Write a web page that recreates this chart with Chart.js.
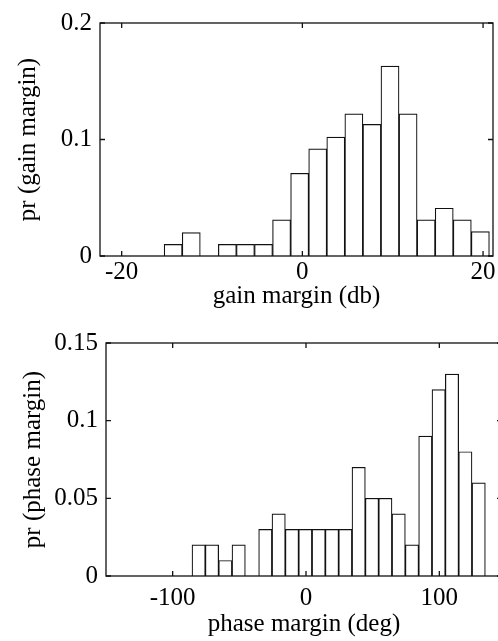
<!DOCTYPE html>
<html>
<head>
<meta charset="utf-8">
<script src="https://cdn.jsdelivr.net/npm/chart.js@4.4.1/dist/chart.umd.min.js"></script>
<style>
  html, body { margin:0; padding:0; background:#fff; overflow:hidden; }
  body { width:498px; height:641px; position:relative; }
  canvas { position:absolute; left:0; }
  #chart-0 { top:0; }
  #chart-1 { top:318px; }
</style>
</head>
<body>
<canvas id="chart-0" width="498" height="318"></canvas>
<canvas id="chart-1" width="504" height="323"></canvas>
<script>
// gain margin histogram (db), bin centres and probabilities
var gainBins = [-14.3, -12.3, -10.3, -8.3, -6.3, -4.3, -2.3, -0.3, 1.7, 3.7, 5.7, 7.7, 9.7, 11.7, 13.7, 15.7, 17.7, 19.7];
var gainPr   = [0.010, 0.020, 0, 0.010, 0.010, 0.010, 0.031, 0.071, 0.092, 0.102, 0.122, 0.113, 0.163, 0.122, 0.031, 0.041, 0.031, 0.021];
var gainTicksX = [-20, 0, 20];
var gainTicksY = [0, 0.1, 0.2];

// phase margin histogram (deg)
var phaseBins = [-80.5, -70.5, -60.5, -50.5, -40.5, -30.5, -20.5, -10.5, -0.5, 9.5, 19.5, 29.5, 39.5, 49.5, 59.5, 69.5, 79.5, 89.5, 99.5, 109.5, 119.5, 129.5];
var phasePr   = [0.02, 0.02, 0.01, 0.02, 0, 0.03, 0.04, 0.03, 0.03, 0.03, 0.03, 0.03, 0.07, 0.05, 0.05, 0.04, 0.02, 0.09, 0.12, 0.13, 0.08, 0.06];
var phaseTicksX = [-100, 0, 100];
var phaseTicksY = [0, 0.05, 0.1, 0.15];

Chart.defaults.font.family = "'Liberation Serif', 'Times New Roman', serif";
Chart.defaults.font.size = 25;
Chart.defaults.color = '#000';

// matlab style box with inward ticks on all four sides
var frameTicks = {
  id: 'frameTicks',
  afterDatasetsDraw: function(chart){
    var ctx = chart.ctx, a = chart.chartArea, len = 5;
    var sx = chart.scales.x, sy = chart.scales.y;
    ctx.save();
    ctx.strokeStyle = '#111';
    ctx.lineWidth = 1.3;
    ctx.strokeRect(a.left, a.top, a.right - a.left, a.bottom - a.top);
    ctx.beginPath();
    sx.ticks.forEach(function(t){
      var px = sx.getPixelForValue(t.value);
      ctx.moveTo(px, a.bottom); ctx.lineTo(px, a.bottom - len);
      ctx.moveTo(px, a.top); ctx.lineTo(px, a.top + len);
    });
    sy.ticks.forEach(function(t){
      var py = sy.getPixelForValue(t.value);
      ctx.moveTo(a.left, py); ctx.lineTo(a.left + len, py);
      ctx.moveTo(a.right, py); ctx.lineTo(a.right - len, py);
    });
    ctx.stroke();
    ctx.restore();
  }
};

function loadHistogram(objID, bins, pr, ticksX, ticksY, xMin, xMax, xTitle, yTitle, box){
  new Chart(document.getElementById(objID), {
    type: 'bar',
    data: {
      datasets: [{
        data: bins.map(function(b, i){ return {x: b, y: pr[i]}; }),
        backgroundColor: '#fff',
        borderColor: '#111',
        borderWidth: 1.2,
        barPercentage: 1,
        categoryPercentage: 1
      }]
    },
    options: {
      responsive: false,
      animation: false,
      events: [],
      layout: { padding: { left: 0, top: box.top, right: box.right, bottom: 0 } },
      plugins: { legend: { display: false }, tooltip: { enabled: false } },
      scales: {
        x: {
          type: 'linear',
          offset: false,
          min: xMin,
          max: xMax,
          grid: { display: false, drawTicks: false, offset: false },
          border: { display: false },
          afterBuildTicks: function(scale){ scale.ticks = ticksX.map(function(v){ return {value: v}; }); },
          afterFit: function(scale){ scale.height = box.xHeight; },
          ticks: { padding: box.xTickPad, maxRotation: 0, callback: function(v){ return String(v); } },
          title: { display: true, text: xTitle, padding: { top: 0, bottom: box.xTitlePad } }
        },
        y: {
          min: 0,
          max: ticksY[ticksY.length - 1],
          grid: { display: false, drawTicks: false },
          border: { display: false },
          afterBuildTicks: function(scale){ scale.ticks = ticksY.map(function(v){ return {value: v}; }); },
          afterFit: function(scale){ scale.width = box.yWidth; },
          ticks: { padding: 8, callback: function(v){ return String(v); } },
          title: { display: true, text: yTitle, padding: { top: box.yTitlePad, bottom: 0 } }
        }
      }
    },
    plugins: [frameTicks]
  });
}

loadHistogram('chart-0', gainBins, gainPr, gainTicksX, gainTicksY, -22.4, 21.1,
  'gain margin (db)', 'pr (gain margin)',
  {top: 23, right: 5, xHeight: 62, yWidth: 100, xTickPad: 1, xTitlePad: 7, yTitlePad: 13});

loadHistogram('chart-1', phaseBins, phasePr, phaseTicksX, phaseTicksY, -150, 147,
  'phase margin (deg)', 'pr (phase margin)',
  {top: 25, right: 2, xHeight: 65, yWidth: 106, xTickPad: 7, xTitlePad: 2, yTitlePad: 18});
</script>
</body>
</html>
